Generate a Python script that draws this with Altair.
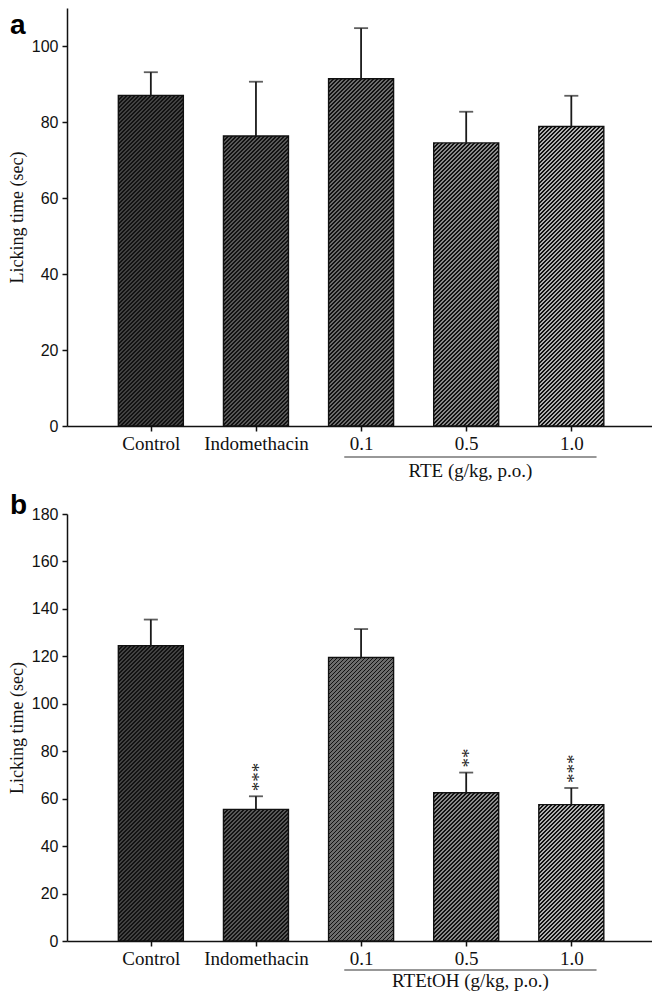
import altair as alt
import pandas as pd

# ---------------- data ----------------
groups = ["Control", "Indomethacin", "0.1", "0.5", "1.0"]
a_mean = [87.0, 76.3, 91.4, 74.5, 78.8]
a_sem = [6.1, 14.3, 13.3, 8.2, 8.1]
a_sig = ["", "", "", "", ""]
b_mean = [124.5, 55.5, 119.5, 62.5, 57.5]
b_sem = [11.0, 5.5, 12.0, 8.5, 7.0]
b_sig = ["", "***", "", "**", "***"]
a_yticks = [0, 20, 40, 60, 80, 100]
b_yticks = [0, 20, 40, 60, 80, 100, 120, 140, 160, 180]
a_ymax = 110
b_ymax = 180
a_dose_title = "RTE (g/kg, p.o.)"
b_dose_title = "RTEtOH (g/kg, p.o.)"
y_title = "Licking time (sec)"

# ---------------- style ----------------
bar_fills = ["#424242", "#575757", "#6c6c6c", "#8a8a8a", "#b0b0b0"]
HATCH = "#121212"
INK = "#111111"
W = 585
X_MIN, X_MAX = -0.75, 4.72
BAR_W = 65
SERIF = "Liberation Serif"
SANS = "Liberation Sans"

positions = list(range(len(groups)))
dose_idx = [2, 3, 4]


def hatch_fill(base, w, h, period=4.0, dark=1.9):
    total = w + h
    stops = []
    k = 0
    while k * period < total:
        s = k * period / total
        e = min((k * period + dark) / total, 1.0)
        n = min((k + 1) * period / total, 1.0)
        stops += [
            {"offset": s, "color": HATCH},
            {"offset": e, "color": HATCH},
            {"offset": e, "color": base},
            {"offset": n, "color": base},
        ]
        k += 1
    a = (1 / h + 1 / w) / (1 / h ** 2 + 1 / w ** 2)
    return {"gradient": "linear", "stops": stops,
            "x1": 0, "y1": 0, "x2": a / h, "y2": a / w}


def panel(letter, means, sems, sig, ymax, yticks, dose_title, H,
          letter_y, letter_base, line_off, title_off):
    xscale = alt.Scale(domain=[X_MIN, X_MAX], nice=False, zero=False)
    yscale = alt.Scale(domain=[0, ymax], nice=False)
    label_expr = "[" + ",".join(f"'{g}'" for g in groups) + "][datum.value]"
    xaxis = alt.Axis(values=positions, labelExpr=label_expr, title=None, grid=False,
                     domainColor=INK, domainWidth=1.5, tickColor=INK, tickWidth=1.5,
                     tickSize=5, labelFont=SERIF, labelFontSize=19, labelColor=INK,
                     labelPadding=3, labelFlush=False, labelOverlap=False)
    yaxis = alt.Axis(values=yticks, title=y_title, titleFont=SERIF, titleFontSize=18,
                     titleFontWeight="normal", titleColor=INK, titlePadding=5,
                     labelFont=SANS, labelFontSize=16, labelColor=INK, labelPadding=4,
                     tickSize=5, tickColor=INK, tickWidth=1.5, grid=False,
                     domainColor=INK, domainWidth=1.5, labelFlush=False)

    def X(f):
        return alt.X(f"{f}:Q", scale=xscale, axis=xaxis)

    def Y(f):
        return alt.Y(f"{f}:Q", scale=yscale, axis=yaxis)

    df = pd.DataFrame({
        "pos": positions,
        "val": means,
        "top": [m + s for m, s in zip(means, sems)],
        "sig": sig,
        "nsig": [len(s) for s in sig],
    })

    layers = []
    for i in range(len(groups)):
        h = means[i] * H / ymax
        layers.append(
            alt.Chart(df.iloc[[i]]).mark_bar(
                size=BAR_W, orient="vertical", fill=hatch_fill(bar_fills[i], BAR_W, h),
                stroke=INK, strokeWidth=1.4
            ).encode(x=X("pos"), y=Y("val"))
        )
    err = alt.Chart(df).mark_rule(color="#1a1a1a", strokeWidth=1.8).encode(
        x=X("pos"), y=Y("val"), y2="top")
    cap = alt.Chart(df).mark_tick(orient="horizontal", size=14, thickness=1.8,
                                  color="#1a1a1a").encode(x=X("pos"), y=Y("top"))
    layers += [err, cap]
    if any(sig):
        # asterisks stacked in a column (text rotated 90 deg; dx/dy act in the rotated frame)
        layers.append(
            alt.Chart(df).transform_filter(alt.datum.nsig > 0).mark_text(
                font=SERIF, fontSize=19, angle=90, align="right", baseline="middle",
                dx=-5, dy=4, color="#222"
            ).encode(x=X("pos"), y=Y("top"), text="sig:N")
        )

    start = positions[dose_idx[0]] - 0.16
    end = positions[dose_idx[-1]] + 0.24
    ldf = pd.DataFrame({"pos": [start], "pos2": [end], "mid": [(start + end) / 2],
                        "t": [dose_title]})
    line = alt.Chart(ldf).mark_rule(color="#333", strokeWidth=1.2).encode(
        x=X("pos"), x2="pos2", y=alt.value(H + line_off))
    gtitle = alt.Chart(ldf).mark_text(font=SERIF, fontSize=19, baseline="middle",
                                      color=INK).encode(
        x=X("mid"), y=alt.value(H + title_off), text="t:N")
    let = alt.Chart(pd.DataFrame({"t": [letter]})).mark_text(
        font=SANS, fontWeight="bold", fontSize=28, align="left", baseline=letter_base,
        color="#000").encode(x=alt.value(-57), y=alt.value(letter_y), text="t:N")
    layers += [line, gtitle, let]

    return alt.layer(*layers).properties(width=W, height=H)


pa = panel("a", a_mean, a_sem, a_sig, a_ymax, a_yticks, a_dose_title, 418,
           4, "top", 31, 45)
pb = panel("b", b_mean, b_sem, b_sig, b_ymax, b_yticks, b_dose_title, 427,
           -8, "middle", 29, 40)

chart = alt.vconcat(pa, pb, spacing=11).properties(
    padding=0, background="white").configure_view(stroke=None)

chart.save("out.html", embed_options={"renderer": "svg", "actions": False})
